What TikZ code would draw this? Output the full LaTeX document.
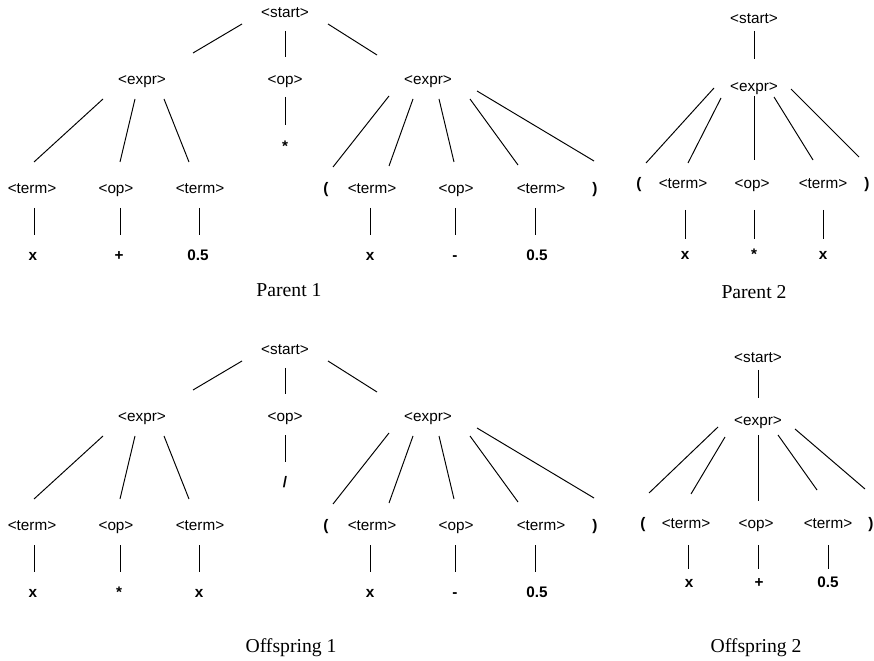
\documentclass[tikz,border=0pt]{standalone}
\usepackage{fontspec}
\setmainfont{Liberation Serif}
\setsansfont{Liberation Sans}
\usepackage{tikz}

\begin{document}
\begin{tikzpicture}[x=0.02cm, y=-0.02cm, line width=0.55pt,
    nonterm/.style={font=\fontsize{8.7}{10}\sffamily, inner sep=0pt, text height=6.3pt, text depth=0pt},
    leaf/.style={nonterm, font=\fontsize{8.7}{10}\sffamily\bfseries},
    caption/.style={font=\fontsize{11.2}{13}\rmfamily, anchor=base, inner sep=0pt}]
    \useasboundingbox (0,0) rectangle (874,661);

    % Parent 1
    \node[nonterm] (aS) at (285,12) {<start>};
    \node[nonterm] (aE1) at (142,79) {<expr>};
    \node[nonterm] (aO) at (285,79) {<op>};
    \node[nonterm] (aE2) at (428,79) {<expr>};
    \node[leaf] (aStar) at (285,146) {*};
    \node[nonterm] (aT1) at (32,188) {<term>};
    \node[nonterm] (aO1) at (116,188) {<op>};
    \node[nonterm] (aT2) at (200,188) {<term>};
    \node[leaf] (aL) at (326,188) {(};
    \node[nonterm] (aT3) at (372,188) {<term>};
    \node[nonterm] (aO2) at (456,188) {<op>};
    \node[nonterm] (aT4) at (541,188) {<term>};
    \node[leaf] (aR) at (595,188) {)};
    \node[leaf] (aX1) at (33,255) {x};
    \node[leaf] (aPl) at (119,255) {+};
    \node[leaf] (aH1) at (198,255) {0.5};
    \node[leaf] (aX2) at (370,255) {x};
    \node[leaf] (aM) at (455,255) {-};
    \node[leaf] (aH2) at (537,255) {0.5};
    \node[caption] (aCap) at (289,297) {Parent 1};

    \draw ([shift={(-43,12)}]aS.center) -- ([shift={(51,-26)}]aE1.center);
    \draw ([shift={(0,19)}]aS.center) -- ([shift={(0,-22)}]aO.center);
    \draw ([shift={(43,12)}]aS.center) -- ([shift={(-51,-24)}]aE2.center);
    \draw ([shift={(-39,20)}]aE1.center) -- ([shift={(2,-26)}]aT1.center);
    \draw ([shift={(-7,20)}]aE1.center) -- ([shift={(4,-26)}]aO1.center);
    \draw ([shift={(22,20)}]aE1.center) -- ([shift={(-11,-26)}]aT2.center);
    \draw ([shift={(0,18)}]aO.center) -- ([shift={(0,-21)}]aStar.center);
    \draw ([shift={(-39,17)}]aE2.center) -- ([shift={(7,-21)}]aL.center);
    \draw ([shift={(-15,20)}]aE2.center) -- ([shift={(17,-22)}]aT3.center);
    \draw ([shift={(11,20)}]aE2.center) -- ([shift={(-2,-26)}]aO2.center);
    \draw ([shift={(42,20)}]aE2.center) -- ([shift={(-23,-23)}]aT4.center);
    \draw ([shift={(49,12)}]aE2.center) -- ([shift={(-1,-27)}]aR.center);
    \draw ([shift={(2,20)}]aT1.center) -- ([shift={(1,-20)}]aX1.center);
    \draw ([shift={(4,20)}]aO1.center) -- ([shift={(1,-20)}]aPl.center);
    \draw ([shift={(-1,20)}]aT2.center) -- ([shift={(1,-20)}]aH1.center);
    \draw ([shift={(-2,20)}]aT3.center) -- ([shift={(0,-20)}]aX2.center);
    \draw ([shift={(-1,20)}]aO2.center) -- ([shift={(0,-20)}]aM.center);
    \draw ([shift={(-6,20)}]aT4.center) -- ([shift={(-2,-20)}]aH2.center);

    % Parent 2
    \node[nonterm] (bS) at (754,18) {<start>};
    \node[nonterm] (bE) at (754,86) {<expr>};
    \node[leaf] (bL) at (639,183) {(};
    \node[nonterm] (bT1) at (683,183) {<term>};
    \node[nonterm] (bO) at (752,183) {<op>};
    \node[nonterm] (bT2) at (823,183) {<term>};
    \node[leaf] (bR) at (867,183) {)};
    \node[leaf] (bX1) at (685,253.5) {x};
    \node[leaf] (bSt) at (754,253.5) {*};
    \node[leaf] (bX2) at (823,253.5) {x};
    \node[caption] (bCap) at (754,299) {Parent 2};

    \draw ([shift={(0,13)}]bS.center) -- ([shift={(0,-27)}]bE.center);
    \draw ([shift={(-40,2)}]bE.center) -- ([shift={(7,-20)}]bL.center);
    \draw ([shift={(-33,12)}]bE.center) -- ([shift={(5,-20)}]bT1.center);
    \draw ([shift={(0,10)}]bE.center) -- ([shift={(2,-23)}]bO.center);
    \draw ([shift={(20,11)}]bE.center) -- ([shift={(-10,-23)}]bT2.center);
    \draw ([shift={(37,3)}]bE.center) -- ([shift={(-8,-26)}]bR.center);
    \draw ([shift={(2,27)}]bT1.center) -- ([shift={(0,-14.5)}]bX1.center);
    \draw ([shift={(2,27)}]bO.center) -- ([shift={(0,-14.5)}]bSt.center);
    \draw ([shift={(0,27)}]bT2.center) -- ([shift={(0,-14.5)}]bX2.center);

    % Offspring 1
    \node[nonterm] (cS) at (285,349) {<start>};
    \node[nonterm] (cE1) at (142,416) {<expr>};
    \node[nonterm] (cO) at (285,416) {<op>};
    \node[nonterm] (cE2) at (428,416) {<expr>};
    \node[leaf] (cSl) at (285,482) {/};
    \node[nonterm] (cT1) at (32,525) {<term>};
    \node[nonterm] (cO1) at (116,525) {<op>};
    \node[nonterm] (cT2) at (200,525) {<term>};
    \node[leaf] (cL) at (326,525) {(};
    \node[nonterm] (cT3) at (372,525) {<term>};
    \node[nonterm] (cO2) at (456,525) {<op>};
    \node[nonterm] (cT4) at (541,525) {<term>};
    \node[leaf] (cR) at (595,525) {)};
    \node[leaf] (cX1) at (33,592) {x};
    \node[leaf] (cSt) at (119,592) {*};
    \node[leaf] (cX2) at (199,592) {x};
    \node[leaf] (cX3) at (370,592) {x};
    \node[leaf] (cM) at (455,592) {-};
    \node[leaf] (cH) at (537,592) {0.5};
    \node[caption] (cCap) at (291,652) {Offspring 1};

    \draw ([shift={(-43,12)}]cS.center) -- ([shift={(51,-26)}]cE1.center);
    \draw ([shift={(0,19)}]cS.center) -- ([shift={(0,-22)}]cO.center);
    \draw ([shift={(43,12)}]cS.center) -- ([shift={(-51,-24)}]cE2.center);
    \draw ([shift={(-39,20)}]cE1.center) -- ([shift={(2,-26)}]cT1.center);
    \draw ([shift={(-7,20)}]cE1.center) -- ([shift={(4,-26)}]cO1.center);
    \draw ([shift={(22,20)}]cE1.center) -- ([shift={(-11,-26)}]cT2.center);
    \draw ([shift={(0,19)}]cO.center) -- ([shift={(0,-20)}]cSl.center);
    \draw ([shift={(-39,17)}]cE2.center) -- ([shift={(7,-21)}]cL.center);
    \draw ([shift={(-15,20)}]cE2.center) -- ([shift={(17,-22)}]cT3.center);
    \draw ([shift={(11,20)}]cE2.center) -- ([shift={(-2,-26)}]cO2.center);
    \draw ([shift={(42,20)}]cE2.center) -- ([shift={(-23,-23)}]cT4.center);
    \draw ([shift={(49,12)}]cE2.center) -- ([shift={(-1,-27)}]cR.center);
    \draw ([shift={(2,20)}]cT1.center) -- ([shift={(1,-20)}]cX1.center);
    \draw ([shift={(4,20)}]cO1.center) -- ([shift={(1,-20)}]cSt.center);
    \draw ([shift={(-1,20)}]cT2.center) -- ([shift={(0,-20)}]cX2.center);
    \draw ([shift={(-2,20)}]cT3.center) -- ([shift={(0,-20)}]cX3.center);
    \draw ([shift={(-1,20)}]cO2.center) -- ([shift={(0,-20)}]cM.center);
    \draw ([shift={(-6,20)}]cT4.center) -- ([shift={(-2,-20)}]cH.center);

    % Offspring 2
    \node[nonterm] (dS) at (758,356.5) {<start>};
    \node[nonterm] (dE) at (758,420) {<expr>};
    \node[leaf] (dL) at (643,523) {(};
    \node[nonterm] (dT1) at (686,523) {<term>};
    \node[nonterm] (dO) at (756,523) {<op>};
    \node[nonterm] (dT2) at (828,523) {<term>};
    \node[leaf] (dR) at (871,523) {)};
    \node[leaf] (dX) at (689,581.5) {x};
    \node[leaf] (dPl) at (759,581.5) {+};
    \node[leaf] (dH) at (828,581.5) {0.5};
    \node[caption] (dCap) at (756,652) {Offspring 2};

    \draw ([shift={(0,13.5)}]dS.center) -- ([shift={(0,-22)}]dE.center);
    \draw ([shift={(-40,7)}]dE.center) -- ([shift={(6,-30)}]dL.center);
    \draw ([shift={(-33,17)}]dE.center) -- ([shift={(5,-29)}]dT1.center);
    \draw ([shift={(0,15)}]dE.center) -- ([shift={(2,-22)}]dO.center);
    \draw ([shift={(20,15)}]dE.center) -- ([shift={(-11,-33)}]dT2.center);
    \draw ([shift={(37,9)}]dE.center) -- ([shift={(-6,-34)}]dR.center);
    \draw ([shift={(2,22)}]dT1.center) -- ([shift={(-1,-12.5)}]dX.center);
    \draw ([shift={(2,22)}]dO.center) -- ([shift={(-1,-12.5)}]dPl.center);
    \draw ([shift={(0,22)}]dT2.center) -- ([shift={(0,-12.5)}]dH.center);
\end{tikzpicture}
\end{document}
